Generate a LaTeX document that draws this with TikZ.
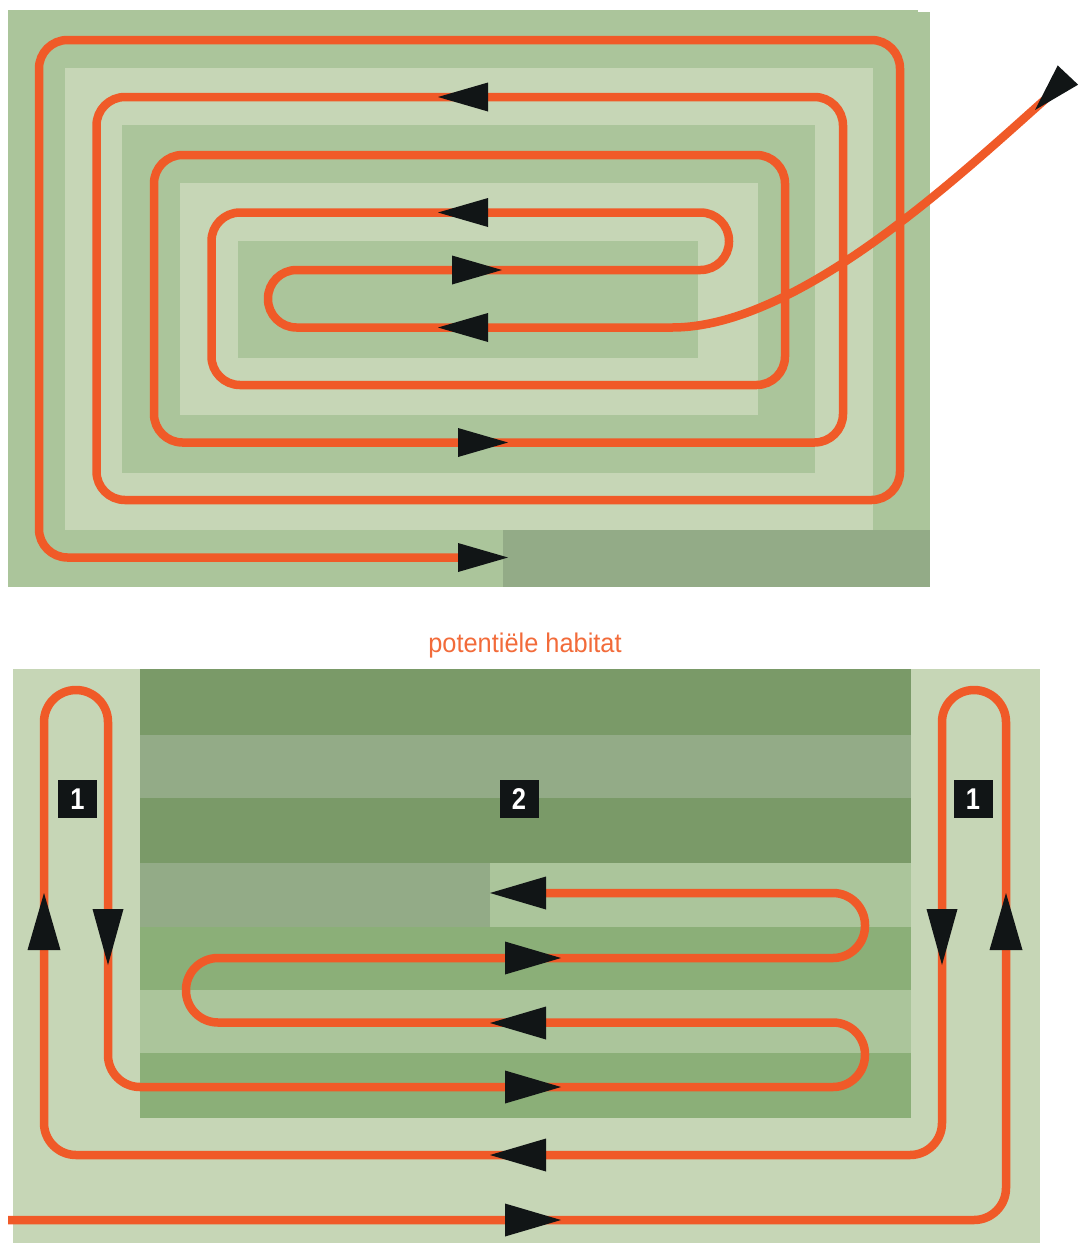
\documentclass[tikz,border=0pt]{standalone}
\usepackage{fontspec}
\setmainfont{Liberation Sans}
\newfontfamily\labelfont[FakeStretch=0.94]{Liberation Sans}
\newfontfamily\numfont[FakeStretch=0.85]{Liberation Sans}
\definecolor{gmid}{HTML}{ABC59B}
\definecolor{glight}{HTML}{C6D6B6}
\definecolor{ggray}{HTML}{93AB87}
\definecolor{gdark}{HTML}{7A9A68}
\definecolor{ggreen}{HTML}{8BAF78}
\definecolor{route}{HTML}{F05A28}
\definecolor{labelorange}{HTML}{F26B3A}
\definecolor{arrowblack}{HTML}{111516}
\tikzset{
  routeline/.style={draw=route, line width=8.5pt, line cap=butt, line join=round},
  arrowfill/.style={fill=arrowblack},
  numbox/.style={fill=arrowblack, text=white, minimum width=39pt, minimum height=38pt, inner sep=0pt,
    font=\numfont\bfseries\fontsize{30}{30}\selectfont},
  habitatlabel/.style={text=labelorange, inner sep=0pt, font=\labelfont\fontsize{27}{30}\selectfont}
}
% tip x, tip y, angle, length, width
\newcommand\mytri[5]{\fill[arrowfill, shift={(#1,#2)}, rotate=#3] (0,0) -- (-#4,#5/2) -- (-#4,-#5/2) -- cycle;}
\begin{document}
\begin{tikzpicture}[x=1pt, y=-1pt]
\useasboundingbox (0,0) rectangle (1080,1243);
% ---------- top panel ----------
\fill[gmid] (8,10) rectangle (918,587);
\fill[gmid] (918,12) rectangle (930,587);
\fill[glight] (65,68) rectangle (873,530);
\fill[gmid] (122,125) rectangle (815,473);
\fill[glight] (180,183) rectangle (758,415);
\fill[gmid] (238,241) rectangle (698,358);
\fill[ggray] (503,530) rectangle (930,587);
\coordinate (tstart) at (1049,96);
\coordinate (tend) at (470,557.5);
\draw[routeline] (tstart) .. controls (963,172) and (800,327.5) .. (672,327.5)
  [rounded corners=28.5pt]
  -- (268,327.5) -- (268,270) -- (729,270) -- (729,212.5)
  -- (211.5,212.5) -- (211.5,385) -- (785,385) -- (785,155)
  -- (154,155) -- (154,442.5) -- (843,442.5) -- (843,97)
  -- (96.5,97) -- (96.5,500) -- (900,500) -- (900,40)
  -- (39,40) -- (39,557.5) -- (tend);
\mytri{438}{97}{180}{50}{29}
\mytri{438}{212.5}{180}{50}{29}
\mytri{502}{270}{0}{50}{29}
\mytri{438}{327.5}{180}{50}{29}
\mytri{508}{442.5}{0}{50}{29}
\mytri{508}{557.5}{0}{50}{29}
\mytri{1035}{110}{226.7}{48}{28}
% ---------- label ----------
\node[habitatlabel, anchor=base] (habitat) at (525,652) {potentiële habitat};
% ---------- bottom panel ----------
\fill[glight] (13,669) rectangle (1040,1243);
\fill[gdark] (140,669) rectangle (911,735);
\fill[ggray] (140,735) rectangle (911,798);
\fill[gdark] (140,798) rectangle (911,863);
\fill[ggray] (140,863) rectangle (490,927);
\fill[gmid] (490,863) rectangle (911,927);
\fill[ggreen] (140,927) rectangle (911,990);
\fill[gmid] (140,990) rectangle (911,1053);
\fill[ggreen] (140,1053) rectangle (911,1118);
\coordinate (bstart) at (8,1220);
\coordinate (bend) at (530,893);
\draw[routeline, rounded corners=32pt] (bstart) -- (1006,1220) -- (1006,690) -- (942,690)
  -- (942,1155) -- (44,1155) -- (44,690) -- (108,690) -- (108,1087)
  -- (865,1087) -- (865,1022.5) -- (186,1022.5) -- (186,958)
  -- (865,958) -- (865,893) -- (bend);
\mytri{490}{893}{180}{56}{33}
\mytri{561}{958}{0}{56}{33}
\mytri{490}{1023}{180}{56}{33}
\mytri{561}{1087}{0}{56}{33}
\mytri{490}{1155}{180}{56}{33}
\mytri{561}{1220}{0}{56}{33}
\mytri{44}{893}{90}{57}{33}
\mytri{108}{965}{-90}{56}{31}
\mytri{942}{965}{-90}{56}{31}
\mytri{1006}{893}{90}{57}{33}
\node[numbox] (one left) at (77.5,799) {1};
\node[numbox] (two) at (519,799) {2};
\node[numbox] (one right) at (973,799) {1};
\end{tikzpicture}
\end{document}
